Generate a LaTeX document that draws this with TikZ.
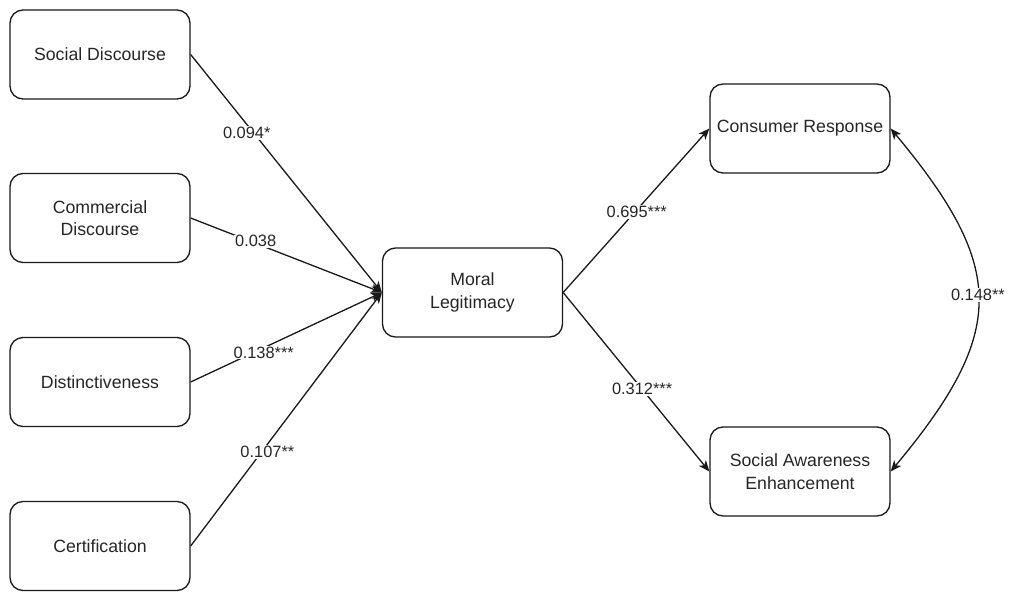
\documentclass[tikz,border=0pt]{standalone}
\usepackage{fontspec}
\setmainfont{Liberation Sans}
\usetikzlibrary{arrows.meta}
\begin{document}
\begin{tikzpicture}[x=1pt,y=-1pt,
  box/.style={draw=black!90, rounded corners=13pt, line width=1.3pt, minimum width=180pt, minimum height=89pt, align=center, inner sep=0pt, text=black!85, font=\fontsize{17.7}{22.5}\selectfont},
  tip/.style={Stealth[length=11pt,width=9pt,inset=3pt]},
  conn/.style={draw=black!90, line width=1.3pt, -{Stealth[length=11pt,width=9pt,inset=3pt]}},
  lbl/.style={fill=white, inner sep=1pt, text=black!85, font=\fontsize{16.4}{19}\selectfont}]
\useasboundingbox (0,0) rectangle (1010,592);
\node[box] (sd) at (100,54.5) {Social Discourse};
\node[box] (cd) at (100,218) {Commercial\\Discourse};
\node[box] (di) at (100,382) {Distinctiveness};
\node[box] (ce) at (100,546) {Certification};
\node[box] (ml) at (472.5,292.5) {Moral\\Legitimacy};
\node[box] (cr) at (800,128.5) {Consumer Response};
\node[box] (sa) at (800,471.5) {Social Awareness\\Enhancement};

\draw[conn] (sd.east) -- node[lbl,pos=0.33,xshift=-7pt]{0.094*} (ml.west);
\draw[conn] (cd.east) -- node[lbl,pos=0.34,yshift=2pt]{0.038} (ml.west);
\draw[conn] (di.east) -- node[lbl,pos=0.33,xshift=10pt]{0.138***} (ml.west);
\draw[conn] (ce.east) -- node[lbl,pos=0.37,xshift=6pt]{0.107**} (ml.west);
\draw[conn] (ml.east) -- node[lbl,pos=0.49,xshift=2pt]{0.695***} (cr.west);
\draw[conn] (ml.east) -- node[lbl,pos=0.54]{0.312***} (sa.west);
\draw[conn, {Stealth[length=11pt,width=9pt,inset=3pt]}-{Stealth[length=11pt,width=9pt,inset=3pt]}]
  (sa.east) .. controls (1007,332) and (1007,268) .. node[lbl,pos=0.5,yshift=5pt]{0.148**} (cr.east);
\end{tikzpicture}
\end{document}
